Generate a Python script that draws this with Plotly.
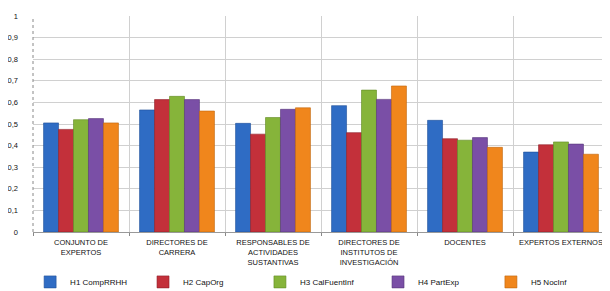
import plotly.graph_objects as go

categories = [
    "CONJUNTO DE<br>EXPERTOS",
    "DIRECTORES DE<br>CARRERA",
    "RESPONSABLES DE<br>ACTIVIDADES<br>SUSTANTIVAS",
    "DIRECTORES DE<br>INSTITUTOS DE<br>INVESTIGACIÓN",
    "DOCENTES",
    "EXPERTOS EXTERNOS",
]
series_names = ["H1 CompRRHH", "H2 CapOrg", "H3 CalFuentInf", "H4 PartExp", "H5 NocInf"]
h1 = [0.505, 0.565, 0.503, 0.585, 0.517, 0.370]
h2 = [0.475, 0.613, 0.453, 0.460, 0.432, 0.404]
h3 = [0.520, 0.628, 0.530, 0.657, 0.425, 0.417]
h4 = [0.525, 0.613, 0.568, 0.614, 0.437, 0.407]
h5 = [0.505, 0.560, 0.575, 0.676, 0.392, 0.360]
series_values = [h1, h2, h3, h4, h5]
colors = ["#2f6cc4", "#c3303a", "#86b43a", "#7a4fa6", "#f0861c"]
line_colors = ["#1f4f98", "#8f1f28", "#5f8a22", "#553478", "#c0650c"]

ytick_vals = [i / 10 for i in range(11)]
ytick_text = ["0", "0,1", "0,2", "0,3", "0,4", "0,5", "0,6", "0,7", "0,8", "0,9", "1"]

legend_ids = ["legend", "legend2", "legend3", "legend4", "legend5"]
legend_x = [-0.005, 0.191, 0.394, 0.599, 0.795]

fig = go.Figure()
for name, vals, c, lc, lid in zip(series_names, series_values, colors, line_colors, legend_ids):
    fig.add_trace(go.Bar(
        x=categories, y=vals, name=name, legend=lid,
        marker=dict(color=c, line=dict(color=lc, width=0.6)),
    ))

font_family = "Liberation Sans, Arial, sans-serif"
legend_layout = {}
for lid, lx in zip(legend_ids, legend_x):
    legend_layout[lid] = dict(
        orientation="h", x=lx, xanchor="left", y=-0.231, yanchor="middle",
        font=dict(size=8, color="#111111"), itemwidth=30,
        bgcolor="rgba(0,0,0,0)",
    )

# page body has an 8px margin, so the figure is sized/margined to compensate
fig.update_layout(
    width=602, height=283,
    margin=dict(l=25, r=1, t=8, b=59, autoexpand=False),
    paper_bgcolor="white", plot_bgcolor="white",
    barmode="group", bargap=0.22, bargroupgap=0,
    font=dict(family=font_family, size=8, color="#111111"),
    showlegend=True,
    xaxis=dict(
        tickson="boundaries", showgrid=True, gridcolor="#d0d0d0", gridwidth=1,
        ticks="outside", ticklen=3, tickcolor="#888888",
        showline=True, linecolor="#999999", linewidth=1,
        tickfont=dict(size=7.5), tickangle=0, automargin=False,
        ticklabeloverflow="allow", ticklabelstandoff=3,
    ),
    yaxis=dict(
        range=[0, 1], tickvals=ytick_vals, ticktext=ytick_text,
        showgrid=True, gridcolor="#d0d0d0", gridwidth=1,
        zeroline=False, showline=False, automargin=False,
        tickfont=dict(size=7.5), ticks="", ticklabelstandoff=14,
    ),
    shapes=[dict(type="line", xref="paper", yref="paper", x0=0, x1=0, y0=0, y1=1,
                 line=dict(color="#888888", width=1, dash="dot"))],
    **legend_layout,
)

fig.write_html("out.html")
